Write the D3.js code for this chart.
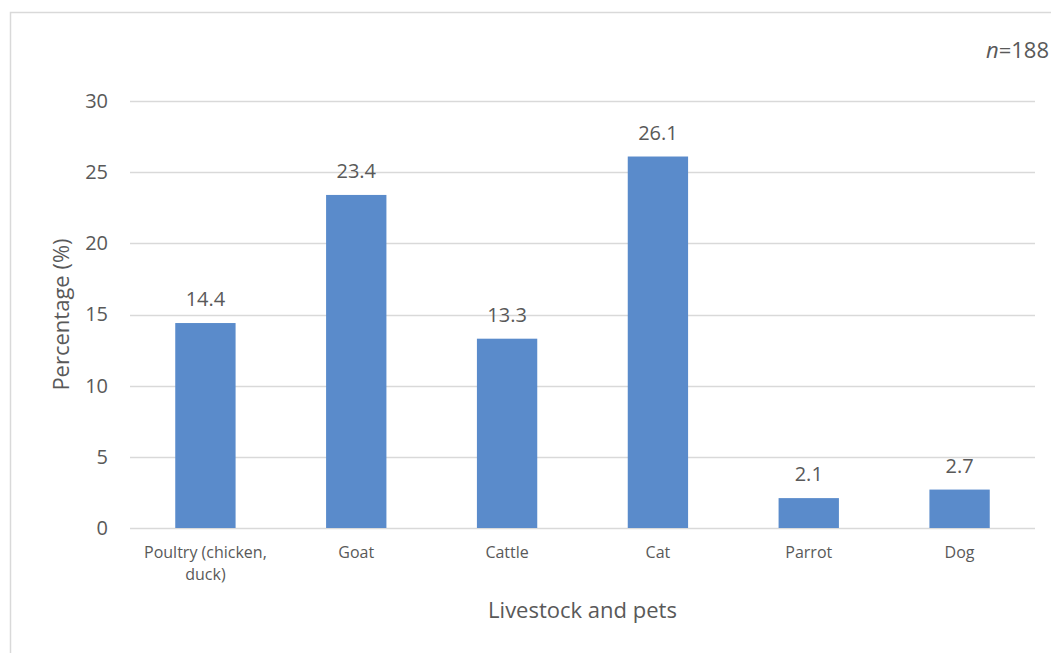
<!DOCTYPE html>
<html>
<head>
<meta charset="utf-8">
<script src="https://cdn.jsdelivr.net/npm/d3@7"></script>
<style>
  body { margin: 0; background: #fff; }
  text { font-family: "Open Sans", sans-serif; fill: #595959; }
</style>
</head>
<body>
<div id="chart-area"></div>
<script>
// Data
let categories = ["Poultry (chicken, duck)", "Goat", "Cattle", "Cat", "Parrot", "Dog"];
let labelLines = [["Poultry (chicken,", "duck)"], ["Goat"], ["Cattle"], ["Cat"], ["Parrot"], ["Dog"]];
let percentages = [14.4, 23.4, 13.3, 26.1, 2.1, 2.7];
let yTicks = [0, 5, 10, 15, 20, 25, 30];

let W = 1051, H = 653;
let margin = { top: 101, right: 16, bottom: 125, left: 130 };
let width = W - margin.left - margin.right,
  height = H - margin.top - margin.bottom;

let root = d3.select("#chart-area")
  .append("svg")
  .attr("width", W)
  .attr("height", H);

// chart frame
root.append("rect")
  .attr("x", 10.5).attr("y", 12.5)
  .attr("width", W + 20).attr("height", H + 20)
  .attr("fill", "none")
  .attr("stroke", "#d9d9d9")
  .attr("stroke-width", 1.5);

let svg = root.append("g")
  .attr("transform", "translate(" + margin.left + "," + margin.top + ")");

// Scales
let x = d3.scaleBand()
  .domain(categories)
  .range([0, width])
  .paddingInner(0.6)
  .paddingOuter(0.3);

let y = d3.scaleLinear()
  .domain([0, 30])
  .range([height, 0]);

// gridlines
svg.append("g")
  .attr("class", "grid")
  .selectAll("line")
  .data(yTicks)
  .enter()
  .append("line")
  .attr("x1", 0).attr("x2", width)
  .attr("y1", d => Math.round(y(d)) + 0.5)
  .attr("y2", d => Math.round(y(d)) + 0.5)
  .attr("stroke", "#d9d9d9")
  .attr("stroke-width", 1.3);

// y axis
let yAxis = d3.axisLeft(y).tickValues(yTicks).tickSize(0).tickPadding(22);
let yG = svg.append("g").attr("class", "axis y-axis").call(yAxis);
yG.select(".domain").remove();
yG.selectAll("text").style("font-size", "20px").attr("fill", "#595959");

// bars
svg.selectAll("rect.bar")
  .data(percentages)
  .enter()
  .append("rect")
  .attr("class", "bar")
  .attr("x", (d, i) => x(categories[i]))
  .attr("y", d => y(d))
  .attr("width", x.bandwidth())
  .attr("height", d => height - y(d))
  .attr("fill", "#5a8bcb");

// value labels
svg.selectAll("text.value")
  .data(percentages)
  .enter()
  .append("text")
  .attr("class", "value")
  .attr("x", (d, i) => x(categories[i]) + x.bandwidth() / 2)
  .attr("y", d => y(d) - 17)
  .attr("text-anchor", "middle")
  .style("font-size", "20px")
  .text(d => d.toFixed(1));

// category labels
let xLab = svg.append("g").attr("class", "axis x-axis");
categories.forEach((c, i) => {
  let t = xLab.append("text")
    .attr("x", x(c) + x.bandwidth() / 2)
    .attr("y", height + 30)
    .attr("text-anchor", "middle")
    .style("font-size", "16px");
  labelLines[i].forEach((line, j) => {
    t.append("tspan")
      .attr("x", x(c) + x.bandwidth() / 2)
      .attr("dy", j === 0 ? 0 : 22)
      .text(line);
  });
});

// axis titles
svg.append("text")
  .attr("class", "axis-label")
  .attr("x", width / 2)
  .attr("y", height + 90)
  .attr("text-anchor", "middle")
  .style("font-size", "22px")
  .text("Livestock and pets");

svg.append("text")
  .attr("class", "axis-label")
  .attr("transform", "translate(-61," + (height / 2) + ") rotate(-90)")
  .attr("text-anchor", "middle")
  .style("font-size", "22px")
  .text("Percentage (%)");

// sample size
let n = root.append("text")
  .attr("x", 1049)
  .attr("y", 58)
  .attr("text-anchor", "end")
  .style("font-size", "22px");
n.append("tspan").style("font-style", "italic").text("n");
n.append("tspan").text("=188");
</script>
</body>
</html>
